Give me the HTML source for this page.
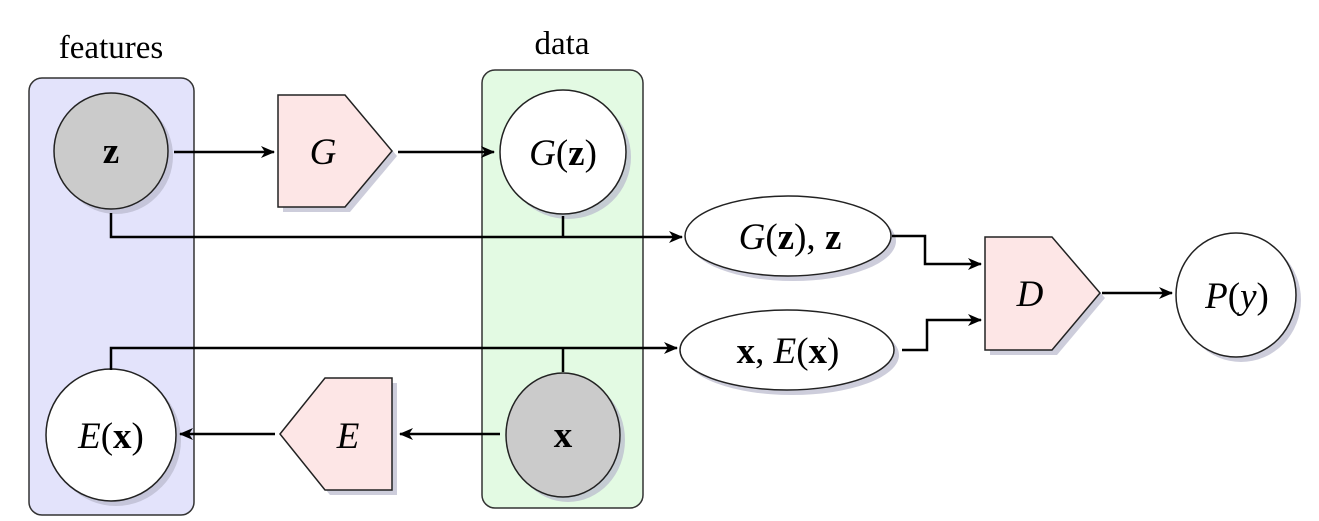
<!DOCTYPE html>
<html><head><meta charset="utf-8"><style>html,body{margin:0;padding:0;background:#fff;}svg{display:block}</style></head>
<body>
<svg width="1319" height="521" viewBox="0 0 1319 521" xmlns="http://www.w3.org/2000/svg" font-family="'Liberation Serif', serif">
<defs>
<marker id="a" markerWidth="14" markerHeight="14" refX="13" refY="7" orient="auto" markerUnits="userSpaceOnUse" viewBox="0 0 14 14">
<path d="M0,1 L14,7 L0,13 L4,7 Z" fill="#000"/>
</marker>
</defs>
<rect x="29" y="78" width="165" height="437" rx="13" fill="#e3e3fb" stroke="#333" stroke-width="1.5"/>
<rect x="482" y="70" width="161" height="438" rx="13" fill="#e3fae3" stroke="#333" stroke-width="1.5"/>
<text x="111" y="58" font-size="33" text-anchor="middle">features</text>
<text x="562" y="54" font-size="33" text-anchor="middle">data</text>
<g fill="#b8b8cc" opacity="0.7">
<ellipse cx="116" cy="156" rx="57" ry="58"/>
<ellipse cx="116" cy="440" rx="65" ry="66"/>
<ellipse cx="568" cy="157" rx="63" ry="62"/>
<ellipse cx="568" cy="440" rx="57" ry="62"/>
<ellipse cx="793" cy="241" rx="103" ry="40"/>
<ellipse cx="792" cy="355" rx="107" ry="40"/>
<ellipse cx="1241" cy="300" rx="60" ry="62"/>
<polygon points="283,100 350,100 397,156 350,212 283,212"/>
<polygon points="285,439 330,383 397,383 397,495 330,495"/>
<polygon points="990,242 1057,242 1105,298 1057,355 990,355"/>
</g>
<ellipse cx="111" cy="151" rx="57" ry="58" fill="#cbcbcb" stroke="#222" stroke-width="1.5"/>
<ellipse cx="111" cy="435" rx="65" ry="66" fill="#fff" stroke="#222" stroke-width="1.5"/>
<ellipse cx="563" cy="152" rx="63" ry="62" fill="#fff" stroke="#222" stroke-width="1.5"/>
<ellipse cx="563" cy="435" rx="57" ry="62" fill="#cbcbcb" stroke="#222" stroke-width="1.5"/>
<ellipse cx="788" cy="236" rx="103" ry="40" fill="#fff" stroke="#222" stroke-width="1.5"/>
<ellipse cx="787" cy="350" rx="107" ry="40" fill="#fff" stroke="#222" stroke-width="1.5"/>
<ellipse cx="1236" cy="295" rx="60" ry="62" fill="#fff" stroke="#222" stroke-width="1.5"/>
<polygon points="278,95 345,95 392,151 345,207 278,207" fill="#fde6e6" stroke="#222" stroke-width="1.5"/>
<polygon points="280,434 325,378 392,378 392,490 325,490" fill="#fde6e6" stroke="#222" stroke-width="1.5"/>
<polygon points="985,237 1052,237 1100,293 1052,350 985,350" fill="#fde6e6" stroke="#222" stroke-width="1.5"/>
<g font-size="37" text-anchor="middle">
<text x="111" y="163" font-weight="bold">z</text>
<text x="323" y="164" font-style="italic">G</text>
<text x="563" y="165"><tspan font-style="italic">G</tspan>(<tspan font-weight="bold">z</tspan>)</text>
<text x="111" y="448"><tspan font-style="italic">E</tspan>(<tspan font-weight="bold">x</tspan>)</text>
<text x="348" y="448" font-style="italic">E</text>
<text x="563" y="447" font-weight="bold">x</text>
<text x="790" y="249"><tspan font-style="italic">G</tspan>(<tspan font-weight="bold">z</tspan>), <tspan font-weight="bold">z</tspan></text>
<text x="788" y="363"><tspan font-weight="bold">x</tspan>, <tspan font-style="italic">E</tspan>(<tspan font-weight="bold">x</tspan>)</text>
<text x="1030" y="306" font-style="italic">D</text>
<text x="1237" y="308"><tspan font-style="italic">P</tspan>(<tspan font-style="italic">y</tspan>)</text>
</g>
<g stroke="#000" stroke-width="2.5" fill="none">
<line x1="174" y1="152" x2="274" y2="152" marker-end="url(#a)"/>
<line x1="398" y1="152" x2="494" y2="152" marker-end="url(#a)"/>
<polyline points="111,213 111,237 682,237" marker-end="url(#a)"/>
<line x1="563" y1="216" x2="563" y2="237"/>
<polyline points="111,370 111,348 677,348" marker-end="url(#a)"/>
<line x1="563" y1="348" x2="563" y2="372"/>
<line x1="500" y1="434" x2="400" y2="434" marker-end="url(#a)"/>
<line x1="275" y1="434" x2="180" y2="434" marker-end="url(#a)"/>
<polyline points="892,236 925,236 925,264 981,264" marker-end="url(#a)"/>
<polyline points="902,350 927,350 927,320 981,320" marker-end="url(#a)"/>
<line x1="1102" y1="293" x2="1172" y2="293" marker-end="url(#a)"/>
</g>
</svg>
</body></html>
